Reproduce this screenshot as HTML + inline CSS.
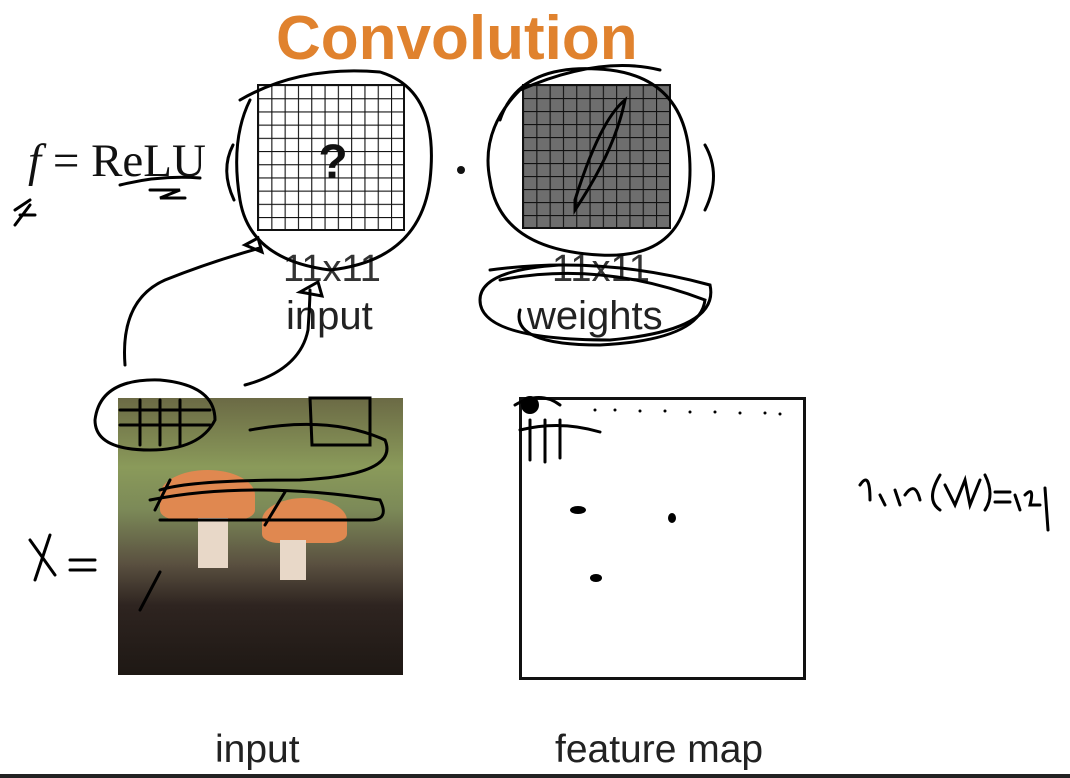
<!DOCTYPE html>
<html><head><meta charset="utf-8"><style>
html,body{margin:0;padding:0;background:#fff;width:1070px;height:778px;overflow:hidden;position:relative;font-family:"Liberation Sans",sans-serif}
.t{position:absolute;white-space:nowrap;line-height:1}
</style></head><body>
<div class="t" style="left:276px;top:8px;font-size:62px;font-weight:bold;color:#e0822e;">Convolution</div>
<div class="t" style="left:28px;top:138px;font-family:'Liberation Serif',serif;font-size:47px;color:#111"><i>f</i> = ReLU</div>
<div class="t" style="left:283px;top:250px;font-size:38px;color:#333">11x11</div>
<div class="t" style="left:286px;top:296px;font-size:40px;color:#222">input</div>
<div class="t" style="left:552px;top:250px;font-size:38px;color:#333">11x11</div>
<div class="t" style="left:527px;top:296px;font-size:40px;color:#222">weights</div>
<div class="t" style="left:215px;top:730px;font-size:39px;color:#222">input</div>
<div class="t" style="left:555px;top:730px;font-size:39px;color:#222">feature map</div>
<!-- photo -->
<div style="position:absolute;left:118px;top:398px;width:285px;height:277px;background:linear-gradient(180deg,#6b6a45 0%,#8a9a5a 25%,#7c8a58 40%,#5a5040 60%,#2e2420 75%,#1e1814 100%)"></div>
<div style="position:absolute;left:160px;top:470px;width:95px;height:50px;border-radius:50% 50% 20% 20%;background:#e08850"></div>
<div style="position:absolute;left:262px;top:498px;width:85px;height:45px;border-radius:50% 50% 20% 20%;background:#e08850"></div>
<div style="position:absolute;left:198px;top:518px;width:30px;height:50px;background:#e8d8c8"></div>
<div style="position:absolute;left:280px;top:540px;width:26px;height:40px;background:#e8d8c8"></div>
<div style="position:absolute;left:519px;top:397px;width:281px;height:277px;border:3px solid #111"></div>
<div style="position:absolute;left:0;top:774px;width:1070px;height:4px;background:#222"></div>
<svg width="1070" height="778" style="position:absolute;left:0;top:0">
<defs>
<pattern id="g" width="13.3" height="13.2" patternUnits="userSpaceOnUse" x="258" y="85"><path d="M0 0H13.3M0 0V13.2" stroke="#111" stroke-width="2.2" fill="none"/></pattern>
<pattern id="g2" width="13.3" height="13" patternUnits="userSpaceOnUse" x="523" y="85"><path d="M0 0H13.3M0 0V13" stroke="#111" stroke-width="2.2" fill="none"/></pattern>
</defs>
<rect x="258" y="85" width="146" height="145" fill="url(#g)" stroke="#111" stroke-width="2"/>
<rect x="523" y="85" width="147" height="143" fill="#6e6e6e"/>
<rect x="523" y="85" width="147" height="143" fill="url(#g2)" stroke="#111" stroke-width="2"/>
<text x="333" y="178" font-size="48" font-weight="bold" text-anchor="middle" font-family="Liberation Sans" fill="#111">?</text>
<circle cx="461" cy="170" r="4" fill="#111"/>
<g fill="none" stroke="#000" stroke-width="3" stroke-linecap="round">
<path d="M233 145 Q220 170 234 200"/><path d="M705 145 Q722 175 705 210"/>
<path d="M240 100 Q300 65 380 72 Q440 90 430 180 Q420 260 330 270 Q250 260 240 200 Q230 140 250 100"/>
<path d="M500 120 Q520 60 610 70 Q690 80 690 170 Q690 260 600 255 Q500 250 490 180 Q480 130 520 90 Q600 55 660 70"/>
<path d="M575 200 Q600 120 625 100 Q615 150 575 210Z"/>
<path d="M490 270 Q600 255 710 285 Q720 330 610 340 Q480 340 480 300 Q480 270 560 265"/>
<path d="M500 280 Q600 260 705 300 Q700 340 600 345 Q510 345 520 310"/>
<path d="M125 365 Q120 300 165 280 Q210 262 260 248"/>
<path d="M245 245 L258 238 L262 252Z"/>
<path d="M245 385 Q300 370 308 330 Q310 300 310 290"/><path d="M300 292 L318 282 L322 296Z"/>
<path d="M95 420 Q100 378 160 380 Q215 385 215 420 Q200 450 150 450 Q95 450 95 420"/>
<path d="M120 410 H210 M120 425 H210 M140 400 V445 M160 400 V445 M180 400 V445"/>
<path d="M310 398 H370 V445 H312Z"/><path d="M250 430 Q330 415 385 440 Q400 475 300 480 Q190 480 160 490"/>
<path d="M150 500 Q250 480 380 500 Q390 520 370 520 Q250 520 160 520"/>
<path d="M155 510 L170 480 M265 525 L285 492 M140 610 L160 572"/>
<path d="M30 540 L55 575 M50 535 L35 580 M70 560 H95 M70 570 H95"/>
<path d="M860 485 Q870 470 870 500 M880 495 L885 505 M895 490 L900 505 M905 495 Q915 480 920 500 M940 475 Q925 500 940 510 M945 485 L955 505 L965 480 L970 505 L980 480 M985 475 Q995 495 985 510 M995 492 H1010 M995 502 H1010 M1015 495 L1020 510 M1025 495 Q1035 485 1030 505 H1040 M1045 488 L1048 530"/>
<path d="M515 405 Q540 390 560 405 M520 430 Q560 420 600 432 M530 420 V460 M545 420 V462 M560 420 V458"/>
<path d="M120 185 Q160 175 200 178 M150 190 H180 L160 198 H185"/>
<path d="M15 210 L30 200 M15 225 L30 205 M20 215 H35"/>
</g>
<g fill="#000"><circle cx="530" cy="405" r="9"/><ellipse cx="578" cy="510" rx="8" ry="4"/><ellipse cx="672" cy="518" rx="4" ry="5"/><ellipse cx="596" cy="578" rx="6" ry="4"/>
<circle cx="595" cy="410" r="1.5"/><circle cx="615" cy="410" r="1.5"/><circle cx="640" cy="411" r="1.5"/><circle cx="665" cy="411" r="1.5"/><circle cx="690" cy="412" r="1.5"/><circle cx="715" cy="412" r="1.5"/><circle cx="740" cy="413" r="1.5"/><circle cx="765" cy="413" r="1.5"/><circle cx="780" cy="414" r="1.5"/></g>
</svg>
</body></html>
